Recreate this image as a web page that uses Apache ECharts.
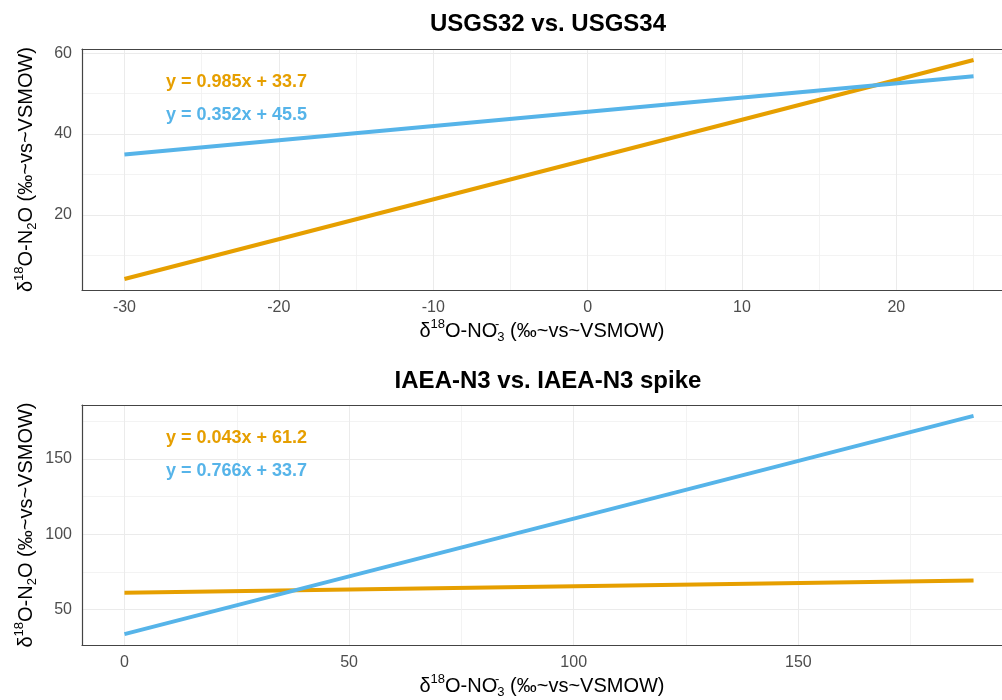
<!DOCTYPE html>
<html>
<head>
<meta charset="utf-8">
<script src="https://cdn.jsdelivr.net/npm/echarts@6/dist/echarts.min.js"></script>
<style>
  html, body { margin: 0; padding: 0; background: #fff; }
  #chart { width: 1002px; height: 700px; }
</style>
</head>
<body>
<div id="chart"></div>
<script>
// Upper panel: USGS32 vs. USGS34 regression lines
const usgsTitle = 'USGS32 vs. USGS34';
const usgsX = [-30, 25];
const usgsOrangeY = [4.15, 58.33];
const usgsBlueY = [34.94, 54.30];
const usgsEquations = ['y = 0.985x + 33.7', 'y = 0.352x + 45.5'];
const usgsXTicks = [-30, -20, -10, 0, 10, 20];
const usgsXMinor = [-25, -15, -5, 5, 15, 25];
const usgsYTicks = [20, 40, 60];
const usgsYMinor = [10, 30, 50];

// Lower panel: IAEA-N3 vs. IAEA-N3 spike regression lines
const iaeaTitle = 'IAEA-N3 vs. IAEA-N3 spike';
const iaeaX = [0, 189];
const iaeaOrangeY = [61.2, 69.33];
const iaeaBlueY = [33.7, 178.47];
const iaeaEquations = ['y = 0.043x + 61.2', 'y = 0.766x + 33.7'];
const iaeaXTicks = [0, 50, 100, 150];
const iaeaXMinor = [25, 75, 125, 175];
const iaeaYTicks = [50, 100, 150];
const iaeaYMinor = [75, 125, 175];

const ORANGE = '#E69F00';
const BLUE = '#56B4E9';
const FRAME = '#444444';
const FONT = '"Liberation Sans", Arial, Helvetica, sans-serif';
const xName = '\u03b4{sup|18}O-NO{supz|-}{sub|3} (\u2030~vs~VSMOW)';
const yName = '\u03b4{sup|18}O-N{sub|2}O (\u2030~vs~VSMOW)';

// Panel geometry: the full padded panel is 934px wide, only 920px fit on the page
const PANEL_LEFT = 82, PANEL_FULL_W = 934, PANEL_VISIBLE_W = 920;

// 5% padding on each side of the data range
function padded(values) {
  const lo = Math.min(...values), hi = Math.max(...values);
  const pad = (hi - lo) * 0.05;
  return [lo - pad, hi + pad];
}
// x range cut at the right page edge
function visibleX(values) {
  const r = padded(values);
  return [r[0], r[0] + (r[1] - r[0]) * PANEL_VISIBLE_W / PANEL_FULL_W];
}
function pairs(xs, ys) { return xs.map((x, i) => [x, ys[i]]); }

const nameStyle = {
  fontSize: 20, color: '#000', fontFamily: FONT, lineHeight: 26,
  rich: {
    sup: { fontSize: 13, lineHeight: 13, verticalAlign: 'top', color: '#000', fontFamily: FONT },
    supz: { fontSize: 13, lineHeight: 13, verticalAlign: 'top', width: 0, color: '#000', fontFamily: FONT },
    sub: { fontSize: 13, lineHeight: 13, verticalAlign: 'bottom', color: '#000', fontFamily: FONT }
  }
};

const frameLine = { show: true, onZero: false, lineStyle: { color: FRAME, width: 1.2 } };

function majorAxis(dim, gridIndex, range, ticks, name) {
  return {
    type: 'value', gridIndex, min: range[0], max: range[1],
    position: dim === 'x' ? 'bottom' : 'left',
    axisLine: frameLine,
    axisTick: { show: false, customValues: ticks },
    axisLabel: { customValues: ticks, color: '#4d4d4d', fontSize: 16, fontFamily: FONT, margin: 10 },
    splitLine: { show: true, lineStyle: { color: '#ebebeb', width: 1 } },
    name, nameLocation: 'middle', nameGap: dim === 'x' ? 28 : 43,
    nameMoveOverlap: false,
    nameTextStyle: nameStyle
  };
}
function minorAxis(dim, gridIndex, range, ticks) {
  return {
    type: 'value', gridIndex, min: range[0], max: range[1],
    // the minor x axis carries the top frame line of the panel
    position: dim === 'x' ? 'top' : 'left',
    axisLine: dim === 'x' ? frameLine : { show: false, onZero: false },
    axisTick: { show: false, customValues: ticks },
    axisLabel: { show: false, customValues: ticks },
    splitLine: { show: true, lineStyle: { color: '#f0f0f0', width: 0.8 } }
  };
}

const usgsXRange = visibleX(usgsX);
const usgsYRange = padded(usgsOrangeY.concat(usgsBlueY));
const iaeaXRange = visibleX(iaeaX);
const iaeaYRange = padded(iaeaOrangeY.concat(iaeaBlueY));

const gridBase = { left: PANEL_LEFT, width: PANEL_VISIBLE_W, height: 241 };

function lineSeries(name, xi, yi, data, color) {
  return {
    name, type: 'line', xAxisIndex: xi, yAxisIndex: yi, data,
    showSymbol: false, symbol: 'none', silent: true,
    lineStyle: { color, width: 4, cap: 'butt' }, itemStyle: { color }, z: 5
  };
}

function label(text, x, y, color, size, weight, align) {
  return {
    type: 'text', x, y, z: 10,
    style: { text, fill: color, font: weight + ' ' + size + 'px ' + FONT,
             textAlign: align, verticalAlign: 'middle', textVerticalAlign: 'middle' }
  };
}

const option = {
  animation: false,
  backgroundColor: '#fff',
  grid: [
    Object.assign({ top: 49 }, gridBase),
    Object.assign({ top: 405 }, gridBase)
  ],
  xAxis: [
    majorAxis('x', 0, usgsXRange, usgsXTicks, xName),
    minorAxis('x', 0, usgsXRange, usgsXMinor),
    majorAxis('x', 1, iaeaXRange, iaeaXTicks, xName),
    minorAxis('x', 1, iaeaXRange, iaeaXMinor)
  ],
  yAxis: [
    majorAxis('y', 0, usgsYRange, usgsYTicks, yName),
    minorAxis('y', 0, usgsYRange, usgsYMinor),
    majorAxis('y', 1, iaeaYRange, iaeaYTicks, yName),
    minorAxis('y', 1, iaeaYRange, iaeaYMinor)
  ],
  series: [
    lineSeries('USGS orange', 0, 0, pairs(usgsX, usgsOrangeY), ORANGE),
    lineSeries('USGS blue', 0, 0, pairs(usgsX, usgsBlueY), BLUE),
    lineSeries('IAEA orange', 2, 2, pairs(iaeaX, iaeaOrangeY), ORANGE),
    lineSeries('IAEA blue', 2, 2, pairs(iaeaX, iaeaBlueY), BLUE)
  ],
  graphic: [
    label(usgsTitle, 548, 24.7, '#000', 24, 'bold', 'center'),
    label(iaeaTitle, 548, 381.5, '#000', 24, 'bold', 'center'),
    label(usgsEquations[0], 166, 82, ORANGE, 18, 'bold', 'left'),
    label(usgsEquations[1], 166, 115, BLUE, 18, 'bold', 'left'),
    label(iaeaEquations[0], 166, 438, ORANGE, 18, 'bold', 'left'),
    label(iaeaEquations[1], 166, 471, BLUE, 18, 'bold', 'left')
  ]
};

const chart = echarts.init(document.getElementById('chart'), null, { renderer: 'canvas' });
chart.setOption(option);
</script>
</body>
</html>
